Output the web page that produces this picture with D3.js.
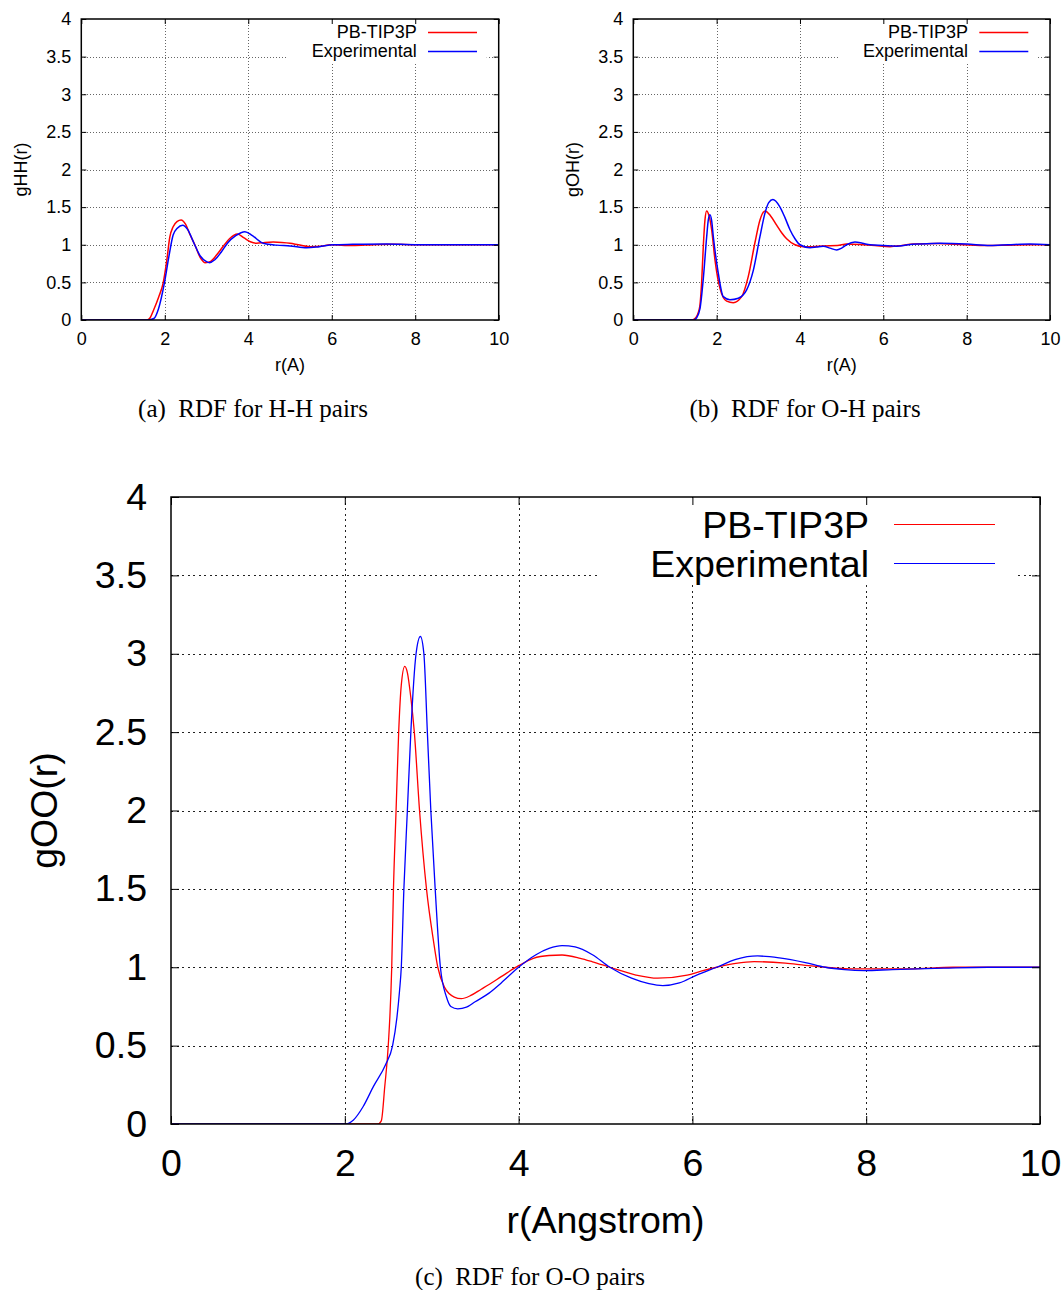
<!DOCTYPE html>
<html><head><meta charset="utf-8">
<script src="https://cdn.jsdelivr.net/npm/d3@7"></script>
<style>body{margin:0;background:#fff} svg{display:block}</style>
</head><body>
<svg id="chart" width="1063" height="1290"></svg>
<script>
// ---------------- data ----------------
const xTicks = [0, 2, 4, 6, 8, 10];
const yTicks = [0, 0.5, 1, 1.5, 2, 2.5, 3, 3.5, 4];
const seriesNames = ["PB-TIP3P", "Experimental"];

// H-H pairs
const hhSimR = [0, 1.5, 1.57, 1.65, 1.73, 1.85, 1.96, 2.05, 2.12, 2.2, 2.3, 2.39, 2.5, 2.6, 2.72, 2.85, 2.97, 3.1, 3.25, 3.4, 3.55, 3.74, 3.9, 4.05, 4.2, 4.4, 4.6, 4.8, 5.0, 5.2, 5.48, 5.75, 5.96, 6.5, 7.0, 7.5, 8.0, 9.0, 10];
const hhSimG = [0, 0, 0.0, 0.03, 0.13, 0.3, 0.49, 0.8, 1.1, 1.24, 1.31, 1.33, 1.27, 1.14, 1.0, 0.83, 0.762, 0.78, 0.87, 0.98, 1.08, 1.143, 1.09, 1.04, 1.02, 1.03, 1.035, 1.03, 1.02, 1.0, 0.975, 0.98, 1.0, 0.99, 1.0, 1.005, 1.0, 1.0, 1.0];
const hhExpR = [0, 1.6, 1.74, 1.85, 1.99, 2.1, 2.2, 2.3, 2.43, 2.55, 2.7, 2.85, 3.0, 3.07, 3.2, 3.35, 3.5, 3.7, 3.92, 4.1, 4.36, 4.68, 5.0, 5.4, 5.7, 6.04, 6.5, 7.32, 8, 9, 10];
const hhExpG = [0, 0, 0.02, 0.15, 0.49, 0.85, 1.13, 1.22, 1.26, 1.2, 1.02, 0.85, 0.775, 0.762, 0.8, 0.9, 1.02, 1.12, 1.174, 1.12, 1.02, 0.995, 0.985, 0.96, 0.975, 1.0, 1.005, 1.01, 1.0, 1.0, 1.0];

// O-H pairs
const ohSimR = [0, 1.4, 1.5, 1.56, 1.6, 1.64, 1.68, 1.72, 1.76, 1.82, 1.88, 1.96, 2.08, 2.24, 2.4, 2.6, 2.76, 2.92, 3.04, 3.16, 3.3, 3.44, 3.56, 3.68, 3.88, 4.08, 4.3, 4.56, 4.9, 5.12, 5.52, 5.8, 6.16, 6.45, 6.72, 7.3, 7.92, 8.5, 9.0, 9.5, 10];
const ohSimG = [0, 0, 0.03, 0.1, 0.2, 0.5, 0.98, 1.33, 1.45, 1.38, 1.2, 0.8, 0.42, 0.25, 0.23, 0.31, 0.58, 1.03, 1.33, 1.45, 1.38, 1.26, 1.16, 1.08, 1.0, 0.975, 0.975, 0.985, 0.99, 1.01, 1.0, 0.99, 0.975, 0.99, 1.01, 1.015, 1.0, 0.99, 0.995, 1.0, 1.0];
const ohExpR = [0, 1.45, 1.52, 1.6, 1.68, 1.76, 1.8, 1.84, 1.88, 1.92, 2.04, 2.16, 2.32, 2.52, 2.72, 2.88, 3.04, 3.16, 3.25, 3.35, 3.51, 3.64, 3.76, 3.88, 4.0, 4.24, 4.4, 4.56, 4.72, 4.88, 5.0, 5.12, 5.32, 5.5, 5.68, 6.0, 6.32, 6.6, 6.88, 7.36, 8.0, 8.56, 9.0, 9.52, 10];
const ohExpG = [0, 0, 0.03, 0.15, 0.55, 1.1, 1.33, 1.40, 1.32, 1.11, 0.62, 0.31, 0.27, 0.29, 0.40, 0.66, 1.11, 1.42, 1.56, 1.60, 1.51, 1.36, 1.20, 1.08, 1.0, 0.96, 0.97, 0.98, 0.955, 0.93, 0.955, 1.0, 1.035, 1.02, 1.0, 0.99, 0.98, 1.0, 1.01, 1.02, 1.01, 0.99, 1.0, 1.01, 1.0];

// O-O pairs
const ooSimR = [0, 2.38, 2.42, 2.46, 2.50, 2.54, 2.56, 2.59, 2.62, 2.65, 2.69, 2.72, 2.76, 2.80, 2.86, 2.94, 3.02, 3.07, 3.15, 3.26, 3.34, 3.45, 3.57, 3.66, 3.8, 4.0, 4.17, 4.35, 4.5, 4.71, 4.85, 5.05, 5.35, 5.6, 5.94, 6.1, 6.28, 6.5, 6.71, 7.07, 7.3, 7.53, 7.8, 8.0, 8.5, 9.0, 9.5, 10];
const ooSimG = [0, 0, 0.02, 0.24, 0.5, 1.0, 1.5, 2.0, 2.5, 2.8, 2.92, 2.88, 2.72, 2.5, 2.0, 1.5, 1.17, 1.0, 0.87, 0.81, 0.80, 0.82, 0.86, 0.89, 0.94, 1.01, 1.057, 1.075, 1.078, 1.057, 1.035, 1.0, 0.95, 0.93, 0.95, 0.975, 1.0, 1.025, 1.036, 1.026, 1.012, 1.0, 0.99, 0.99, 0.99, 1.0, 1.0, 1.0];
const ooExpR = [0, 2.0, 2.1, 2.21, 2.33, 2.47, 2.55, 2.60, 2.63, 2.65, 2.68, 2.72, 2.76, 2.82, 2.87, 2.91, 2.95, 2.99, 3.04, 3.10, 3.17, 3.22, 3.30, 3.4, 3.5, 3.66, 3.8, 4.0, 4.2, 4.35, 4.5, 4.65, 4.85, 5.05, 5.3, 5.5, 5.66, 5.85, 6.05, 6.28, 6.5, 6.75, 7.0, 7.3, 7.53, 7.75, 7.98, 8.3, 8.89, 9.4, 10];
const ooExpG = [0, 0, 0.026, 0.11, 0.24, 0.38, 0.5, 0.68, 0.85, 1.0, 1.5, 2.0, 2.5, 3.0, 3.11, 3.0, 2.5, 2.0, 1.5, 1.0, 0.81, 0.75, 0.735, 0.745, 0.78, 0.835, 0.9, 1.0, 1.08, 1.12, 1.138, 1.13, 1.08, 1.0, 0.93, 0.895, 0.883, 0.9, 0.95, 1.0, 1.05, 1.072, 1.06, 1.03, 1.0, 0.985, 0.979, 0.985, 0.994, 1.0, 1.0];

// ---------------- drawing ----------------
const svg = d3.select("#chart");
const FONT = "'Liberation Sans', Arial, Helvetica, sans-serif";
const SERIF = "'Liberation Serif', 'Times New Roman', Times, serif";

const panels = [
  { id: "a", left: 81.3, right: 498.7, top: 19, bottom: 320, fs: 18, tick: 5, lw: 1.5,
    dash: "1,2", gridColor: "#666", xPad: 12, yPad: 10,
    ylabel: "gHH(r)", ylabelX: 21, xlabel: "r(A)", xlabelY: 365,
    caption: "(a)  RDF for H-H pairs", captionX: 253, captionY: 408, captionFs: 25,
    sim: [hhSimR, hhSimG], exp: [hhExpR, hhExpG],
    key: { boxL: 212, boxR: 12, boxB: 43, textR: 82, lineL: 70.7, lineR: 21.7, row1: 13, row2: 32 } },
  { id: "b", left: 633.3, right: 1050, top: 19, bottom: 320, fs: 18, tick: 5, lw: 1.5,
    dash: "1,2", gridColor: "#666", xPad: 12, yPad: 10,
    ylabel: "gOH(r)", ylabelX: 573, xlabel: "r(A)", xlabelY: 365,
    caption: "(b)  RDF for O-H pairs", captionX: 805, captionY: 408, captionFs: 25,
    sim: [ohSimR, ohSimG], exp: [ohExpR, ohExpG],
    key: { boxL: 212, boxR: 12, boxB: 43, textR: 82, lineL: 70.7, lineR: 21.7, row1: 13, row2: 32 } },
  { id: "c", left: 171, right: 1040, top: 497, bottom: 1124, fs: 37.5, tick: 8, lw: 1.3,
    dash: "2,3.5", gridColor: "#222", xPad: 25, yPad: 24,
    ylabel: "gOO(r)", ylabelX: 43, xlabel: "r(Angstrom)", xlabelY: 1219,
    caption: "(c)  RDF for O-O pairs", captionX: 530, captionY: 1276, captionFs: 25,
    sim: [ooSimR, ooSimG], exp: [ooExpR, ooExpG],
    key: { boxL: 442, boxR: 23, boxB: 86, textR: 171, lineL: 146, lineR: 45, row1: 27, row2: 66 } }
];

const colors = ["#ff0000", "#0000ff"];

panels.forEach(p => {
  const x = d3.scaleLinear().domain([0, 10]).range([p.left, p.right]);
  const y = d3.scaleLinear().domain([0, 4]).range([p.bottom, p.top]);
  const g = svg.append("g").attr("class", "panel-" + p.id);

  // grid
  const grid = g.append("g").attr("stroke", p.gridColor).attr("stroke-width", 1)
    .attr("stroke-dasharray", p.dash).attr("shape-rendering", "crispEdges");
  grid.selectAll("line.gx").data(xTicks.slice(1, -1)).join("line").attr("class", "gx")
    .attr("x1", d => Math.round(x(d)) + 0.5).attr("x2", d => Math.round(x(d)) + 0.5)
    .attr("y1", p.top).attr("y2", p.bottom);
  grid.selectAll("line.gy").data(yTicks.slice(1, -1)).join("line").attr("class", "gy")
    .attr("x1", p.left).attr("x2", p.right)
    .attr("y1", d => Math.round(y(d)) + 0.5).attr("y2", d => Math.round(y(d)) + 0.5);

  // key box (opaque, hides grid)
  const k = p.key;
  g.append("rect").attr("x", p.right - k.boxL).attr("y", p.top + 1)
    .attr("width", k.boxL - k.boxR).attr("height", k.boxB - 1).attr("fill", "#fff");

  // clip
  const clipId = "clip-" + p.id;
  svg.append("clipPath").attr("id", clipId).append("rect")
    .attr("x", p.left).attr("y", p.top).attr("width", p.right - p.left).attr("height", p.bottom - p.top);

  const line = d3.line().x(d => x(d[0])).y(d => y(d[1])).curve(d3.curveMonotoneX);
  [p.sim, p.exp].forEach((s, i) => {
    const pts = s[0].map((r, j) => [r, s[1][j]]);
    g.append("path").datum(pts).attr("d", line)
      .attr("fill", "none").attr("stroke", colors[i]).attr("stroke-width", p.lw)
      .attr("stroke-linejoin", "round").attr("clip-path", `url(#${clipId})`);
  });

  // key
  seriesNames.forEach((name, i) => {
    const yy = p.top + (i === 0 ? k.row1 : k.row2);
    g.append("text").attr("x", p.right - k.textR).attr("y", yy).attr("dy", "0.36em")
      .attr("text-anchor", "end").attr("font-family", FONT).attr("font-size", p.fs).text(name);
    g.append("line").attr("x1", p.right - k.lineL).attr("x2", p.right - k.lineR)
      .attr("y1", yy + 0.5).attr("y2", yy + 0.5).attr("stroke", colors[i]).attr("stroke-width", p.id === "c" ? 1.1 : 1.4);
  });

  // axes (ticks inward, mirrored)
  const styleAxis = sel => {
    sel.select(".domain").remove();
    sel.selectAll(".tick line").attr("stroke", "#000").attr("stroke-width", 1);
    sel.selectAll(".tick text").attr("font-family", FONT).attr("font-size", p.fs).attr("fill", "#000");
  };
  const fmt = d => String(d);
  g.append("g").attr("transform", `translate(0,${p.bottom})`)
    .call(d3.axisBottom(x).tickValues(xTicks).tickFormat(fmt).tickSize(-p.tick).tickPadding(p.xPad)).call(styleAxis);
  g.append("g").attr("transform", `translate(0,${p.top})`)
    .call(d3.axisTop(x).tickValues(xTicks).tickFormat("").tickSize(-p.tick)).call(styleAxis);
  g.append("g").attr("transform", `translate(${p.left},0)`)
    .call(d3.axisLeft(y).tickValues(yTicks).tickFormat(fmt).tickSize(-p.tick).tickPadding(p.yPad)).call(styleAxis);
  g.append("g").attr("transform", `translate(${p.right},0)`)
    .call(d3.axisRight(y).tickValues(yTicks).tickFormat("").tickSize(-p.tick)).call(styleAxis);

  // border
  g.append("rect").attr("x", p.left).attr("y", p.top).attr("width", p.right - p.left)
    .attr("height", p.bottom - p.top).attr("fill", "none").attr("stroke", "#000").attr("stroke-width", 1.5);

  // axis titles
  g.append("text").attr("x", (p.left + p.right) / 2).attr("y", p.xlabelY).attr("dy", "0.36em")
    .attr("text-anchor", "middle").attr("font-family", FONT).attr("font-size", p.fs).text(p.xlabel);
  g.append("text").attr("transform", `translate(${p.ylabelX},${(p.top + p.bottom) / 2}) rotate(-90)`)
    .attr("dy", "0.36em").attr("text-anchor", "middle").attr("font-family", FONT).attr("font-size", p.fs).text(p.ylabel);

  // caption
  g.append("text").attr("x", p.captionX).attr("y", p.captionY).attr("dy", "0.35em")
    .attr("text-anchor", "middle").attr("font-family", SERIF).attr("font-size", p.captionFs)
    .style("white-space", "pre").text(p.caption);
});
</script>
</body></html>
